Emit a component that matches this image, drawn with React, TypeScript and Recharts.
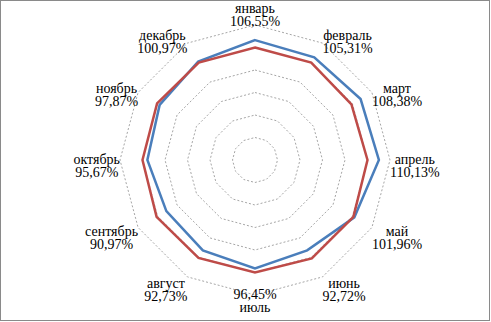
import { PolarAngleAxis, PolarGrid, PolarRadiusAxis, Radar, RadarChart } from "recharts";

const months = [
  "январь",
  "февраль",
  "март",
  "апрель",
  "май",
  "июнь",
  "июль",
  "август",
  "сентябрь",
  "октябрь",
  "ноябрь",
  "декабрь",
];

const actual = [106.55, 105.31, 108.38, 110.13, 101.96, 92.72, 96.45, 92.73, 90.97, 95.67, 97.87, 100.97];
const base = [100, 100, 99, 100, 101, 101, 100, 100.5, 101, 100, 100.5, 100];

// tick text, two lines each (july is written the other way round)
const tickLabels = [
  ["январь", "106,55%"],
  ["февраль", "105,31%"],
  ["март", "108,38%"],
  ["апрель", "110,13%"],
  ["май", "101,96%"],
  ["июнь", "92,72%"],
  ["96,45%", "июль"],
  ["август", "92,73%"],
  ["сентябрь", "90,97%"],
  ["октябрь", "95,67%"],
  ["ноябрь", "97,87%"],
  ["декабрь", "100,97%"],
];

const data = months.map((month, i) => ({ month, actual: actual[i], base: base[i] }));

const W = 491;
const H = 322;
const CX = 255;
const CY = 160;
const R = 135;
const FONT = 14;
const FONT_FAMILY = "Liberation Serif";

let ctx: CanvasRenderingContext2D | null = null;
function textWidth(s: string) {
  if (!ctx) {
    ctx = document.createElement("canvas").getContext("2d");
    if (ctx) ctx.font = `${FONT}px "${FONT_FAMILY}"`;
  }
  return ctx ? ctx.measureText(s).width : s.length * FONT * 0.45;
}

function MonthTick(props: any) {
  const { payload, index } = props;
  const i = typeof index === "number" ? index : months.indexOf(payload.value);
  const lines = tickLabels[i] || [payload.value, ""];
  const rad = (payload.coordinate * Math.PI) / 180;
  const ux = Math.cos(rad);
  const uy = -Math.sin(rad);
  const halfW = Math.max(textWidth(lines[0]), textWidth(lines[1])) / 2;
  const side = Math.abs(ux) < 0.01 ? 0 : Math.sign(ux);
  const x = CX + ux * R + side * halfW;
  const y = CY + uy * 143 + (side === 0 ? -2 : 6);
  return (
    <text x={x} y={y} textAnchor="middle" fill="#000" fontSize={FONT} style={{ fontFamily: FONT_FAMILY }}>
      <tspan x={x} y={y - 2}>
        {lines[0]}
      </tspan>
      <tspan x={x} y={y + 11}>
        {lines[1]}
      </tspan>
    </text>
  );
}

export default function App() {
  return (
    <div style={{ position: "absolute", left: 0, top: 0, width: W, height: H, background: "#fff" }}>
      <RadarChart
        width={W}
        height={H}
        data={data}
        cx={CX}
        cy={CY}
        outerRadius={R}
        margin={{ top: 0, right: 0, bottom: 0, left: 0 }}
      >
        <PolarGrid gridType="polygon" radialLines={false} stroke="#a6a6a6" strokeDasharray="2 2" />
        <PolarRadiusAxis domain={[0, 120]} tickCount={7} tick={false} axisLine={false} />
        <PolarAngleAxis dataKey="month" tick={<MonthTick />} tickLine={false} axisLine={false} />
        <Radar
          dataKey="actual"
          stroke="#4a7ebb"
          strokeWidth={2.5}
          fill="none"
          fillOpacity={0}
          dot={false}
          isAnimationActive={false}
        />
        <Radar
          dataKey="base"
          stroke="#be4b48"
          strokeWidth={2.5}
          fill="none"
          fillOpacity={0}
          dot={false}
          isAnimationActive={false}
        />
      </RadarChart>
      <div
        style={{
          position: "absolute",
          left: 0,
          top: 0,
          width: 490,
          height: 321,
          boxSizing: "border-box",
          border: "1px solid #8a8a8a",
          pointerEvents: "none",
        }}
      />
    </div>
  );
}
